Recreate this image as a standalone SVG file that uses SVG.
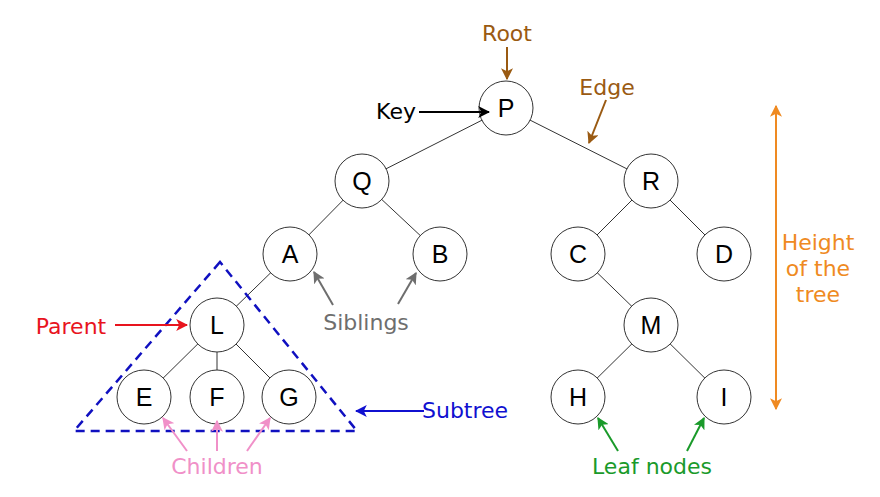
<svg xmlns="http://www.w3.org/2000/svg" width="880" height="497" viewBox="0 0 880 497">
<defs>
<style>
.node circle{fill:#fff;stroke:#333;stroke-width:1}
.node text{font-family:"Liberation Sans",Arial,sans-serif;font-size:25px;fill:#000;text-anchor:middle}
.lbl{font-family:"DejaVu Sans",Verdana,sans-serif;font-size:22px}
.edge{stroke:#333;stroke-width:1}
</style>
<marker id="ahBrown" viewBox="0 0 10 10" refX="9" refY="5" markerWidth="6" markerHeight="6" orient="auto"><path d="M0,0 L10,5 L0,10 L2.5,5 z" fill="#9A5A12"/></marker>
<marker id="ahBlack" viewBox="0 0 10 10" refX="9" refY="5" markerWidth="6" markerHeight="6" orient="auto"><path d="M0,0 L10,5 L0,10 L2.5,5 z" fill="#000"/></marker>
<marker id="ahOrange" viewBox="0 0 10 10" refX="9" refY="5" markerWidth="6" markerHeight="6" orient="auto-start-reverse"><path d="M0,0 L10,5 L0,10 L2.5,5 z" fill="#EF8A22"/></marker>
<marker id="ahRed" viewBox="0 0 10 10" refX="9" refY="5" markerWidth="6" markerHeight="6" orient="auto"><path d="M0,0 L10,5 L0,10 L2.5,5 z" fill="#E8141E"/></marker>
<marker id="ahGray" viewBox="0 0 10 10" refX="9" refY="5" markerWidth="6" markerHeight="6" orient="auto"><path d="M0,0 L10,5 L0,10 L2.5,5 z" fill="#6E6E6E"/></marker>
<marker id="ahBlue" viewBox="0 0 10 10" refX="9" refY="5" markerWidth="6" markerHeight="6" orient="auto"><path d="M0,0 L10,5 L0,10 L2.5,5 z" fill="#1010D0"/></marker>
<marker id="ahPink" viewBox="0 0 10 10" refX="9" refY="5" markerWidth="6" markerHeight="6" orient="auto"><path d="M0,0 L10,5 L0,10 L2.5,5 z" fill="#F090C8"/></marker>
<marker id="ahGreen" viewBox="0 0 10 10" refX="9" refY="5" markerWidth="6" markerHeight="6" orient="auto"><path d="M0,0 L10,5 L0,10 L2.5,5 z" fill="#1A9A2A"/></marker>
</defs>
<rect width="880" height="497" fill="#fff"/>
<g id="connectors">
<line class="edge" x1="506" y1="108" x2="362" y2="181"/>
<line class="edge" x1="506" y1="108" x2="651" y2="181"/>
<line class="edge" x1="362" y1="181" x2="290" y2="254"/>
<line class="edge" x1="362" y1="181" x2="440" y2="254"/>
<line class="edge" x1="651" y1="181" x2="578" y2="254"/>
<line class="edge" x1="651" y1="181" x2="724" y2="254"/>
<line class="edge" x1="290" y1="254" x2="217" y2="325"/>
<line class="edge" x1="217" y1="325" x2="144" y2="397"/>
<line class="edge" x1="217" y1="325" x2="217" y2="397"/>
<line class="edge" x1="217" y1="325" x2="289" y2="397"/>
<line class="edge" x1="578" y1="254" x2="651" y2="325"/>
<line class="edge" x1="651" y1="325" x2="578" y2="397"/>
<line class="edge" x1="651" y1="325" x2="724" y2="397"/>
</g>
<polygon id="subtree-outline" points="220,262 74,431 357,431" fill="none" stroke="#1010C0" stroke-width="2.5" stroke-dasharray="9,6"/>
<g id="nodes">
<g class="node" id="node-P"><circle cx="506" cy="108" r="27"/><text x="506" y="117">P</text></g>
<g class="node" id="node-Q"><circle cx="362" cy="181" r="27"/><text x="362" y="190">Q</text></g>
<g class="node" id="node-R"><circle cx="651" cy="181" r="27"/><text x="651" y="190">R</text></g>
<g class="node" id="node-A"><circle cx="290" cy="254" r="27"/><text x="290" y="263">A</text></g>
<g class="node" id="node-B"><circle cx="440" cy="254" r="27"/><text x="440" y="263">B</text></g>
<g class="node" id="node-C"><circle cx="578" cy="254" r="27"/><text x="578" y="263">C</text></g>
<g class="node" id="node-D"><circle cx="724" cy="254" r="27"/><text x="724" y="263">D</text></g>
<g class="node" id="node-L"><circle cx="217" cy="325" r="27"/><text x="217" y="334">L</text></g>
<g class="node" id="node-M"><circle cx="651" cy="325" r="27"/><text x="651" y="334">M</text></g>
<g class="node" id="node-E"><circle cx="144" cy="397" r="27"/><text x="144" y="406">E</text></g>
<g class="node" id="node-F"><circle cx="217" cy="397" r="27"/><text x="217" y="406">F</text></g>
<g class="node" id="node-G"><circle cx="289" cy="397" r="27"/><text x="289" y="406">G</text></g>
<g class="node" id="node-H"><circle cx="578" cy="397" r="27"/><text x="578" y="406">H</text></g>
<g class="node" id="node-I"><circle cx="724" cy="397" r="27"/><text x="724" y="406">I</text></g>
</g>
<g id="annotations">
<text class="lbl" x="507" y="41" fill="#9A5A12" text-anchor="middle">Root</text>
<line x1="507" y1="47" x2="507" y2="79" stroke="#9A5A12" stroke-width="2" marker-end="url(#ahBrown)"/>
<text class="lbl" x="396" y="119" fill="#000" text-anchor="middle">Key</text>
<line x1="419" y1="112" x2="489" y2="112" stroke="#000" stroke-width="2" marker-end="url(#ahBlack)"/>
<text class="lbl" x="607" y="95" fill="#9A5A12" text-anchor="middle">Edge</text>
<line x1="606" y1="100" x2="589" y2="143" stroke="#9A5A12" stroke-width="2" marker-end="url(#ahBrown)"/>
<line x1="776" y1="106" x2="776" y2="409" stroke="#EF8A22" stroke-width="2" marker-start="url(#ahOrange)" marker-end="url(#ahOrange)"/>
<text class="lbl" fill="#EF8A22" text-anchor="middle"><tspan x="818" y="250">Height</tspan><tspan x="818" y="276">of the</tspan><tspan x="818" y="302">tree</tspan></text>
<text class="lbl" x="71" y="334" fill="#E8141E" text-anchor="middle">Parent</text>
<line x1="115" y1="325" x2="187" y2="325" stroke="#E8141E" stroke-width="2" marker-end="url(#ahRed)"/>
<text class="lbl" x="366" y="330" fill="#6E6E6E" text-anchor="middle">Siblings</text>
<line x1="333" y1="305" x2="314" y2="272" stroke="#6E6E6E" stroke-width="2" marker-end="url(#ahGray)"/>
<line x1="398" y1="304" x2="416" y2="273" stroke="#6E6E6E" stroke-width="2" marker-end="url(#ahGray)"/>
<text class="lbl" x="422" y="418" fill="#1010D0">Subtree</text>
<line x1="424" y1="411" x2="356" y2="411" stroke="#1010D0" stroke-width="2" marker-end="url(#ahBlue)"/>
<text class="lbl" x="217" y="474" fill="#F090C8" text-anchor="middle">Children</text>
<line x1="187" y1="451" x2="163" y2="418" stroke="#F090C8" stroke-width="2" marker-end="url(#ahPink)"/>
<line x1="217" y1="451" x2="217" y2="421" stroke="#F090C8" stroke-width="2" marker-end="url(#ahPink)"/>
<line x1="247" y1="451" x2="270" y2="418" stroke="#F090C8" stroke-width="2" marker-end="url(#ahPink)"/>
<text class="lbl" x="652" y="474" fill="#1A9A2A" text-anchor="middle">Leaf nodes</text>
<line x1="618" y1="451" x2="598" y2="418" stroke="#1A9A2A" stroke-width="2" marker-end="url(#ahGreen)"/>
<line x1="687" y1="451" x2="704" y2="418" stroke="#1A9A2A" stroke-width="2" marker-end="url(#ahGreen)"/>
</g>
</svg>
